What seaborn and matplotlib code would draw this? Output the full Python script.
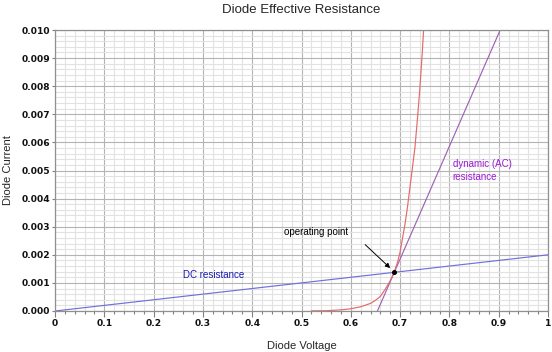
import numpy as np
import pandas as pd
import matplotlib
matplotlib.use("Agg")
import matplotlib.pyplot as plt
import seaborn as sns
from matplotlib.ticker import MultipleLocator

# data
diode_v = [0.52, 0.55, 0.58, 0.60, 0.62, 0.64, 0.65, 0.66, 0.67, 0.68, 0.688, 0.695, 0.70,
           0.705, 0.71, 0.715, 0.72, 0.725, 0.73, 0.735, 0.74, 0.745, 0.75]
diode_i = [0.000005, 0.00001, 0.00004, 0.00008, 0.00015, 0.00027, 0.00038, 0.00052, 0.00078,
           0.00108, 0.00138, 0.00175, 0.0021, 0.0026, 0.0031, 0.0037, 0.0044, 0.0051, 0.0058,
           0.0068, 0.0079, 0.0092, 0.0107]

dc_v = [0.0, 1.0]
dc_i = [0.0, 0.002]

ac_v = [0.654, 0.903]
ac_i = [0.0, 0.010]

op_v = [0.688]
op_i = [0.001376]

x_ticks = [0, 0.1, 0.2, 0.3, 0.4, 0.5, 0.6, 0.7, 0.8, 0.9, 1.0]
x_labels = ["0", "0.1", "0.2", "0.3", "0.4", "0.5", "0.6", "0.7", "0.8", "0.9", "1"]
y_ticks = [0.000, 0.001, 0.002, 0.003, 0.004, 0.005, 0.006, 0.007, 0.008, 0.009, 0.010]
y_labels = ["%.3f" % v for v in y_ticks]

sns.set_style("white")
plt.rcParams["font.family"] = ["Liberation Sans", "DejaVu Sans"]

fig = plt.figure(figsize=(5.52, 3.52), dpi=100)
ax = fig.add_axes([55 / 552, 1 - 311 / 352, 493 / 552, 281 / 352])

# grid
ax.xaxis.set_minor_locator(MultipleLocator(0.02))
ax.yaxis.set_minor_locator(MultipleLocator(0.0002))
ax.grid(which="major", color="#b4b4b4", linewidth=0.8)
ax.grid(which="minor", color="#e2e2e2", linewidth=0.8)
ax.set_axisbelow(True)

sns.lineplot(x=dc_v, y=dc_i, ax=ax, color="#7070dc", linewidth=0.85, sort=False)
sns.lineplot(x=ac_v, y=ac_i, ax=ax, color="#9e62b6", linewidth=0.85, sort=False)
sns.lineplot(x=diode_v, y=diode_i, ax=ax, color="#e46a6a", linewidth=0.85, sort=False)
ax.plot(op_v, op_i, "o", color="black", markersize=2.6, zorder=5)

ax.set_xlim(0, 1)
ax.set_ylim(0, 0.010)
ax.set_xticks(x_ticks)
ax.set_xticklabels(x_labels)
ax.set_yticks(y_ticks)
ax.set_yticklabels(y_labels)

for lab in ax.get_xticklabels() + ax.get_yticklabels():
    lab.set_fontfamily("DejaVu Sans")
    lab.set_fontsize(6.6)
    lab.set_fontweight("bold")
    lab.set_color("#111111")

ax.tick_params(axis="x", which="major", direction="out", length=4, color="#808080", width=0.8, pad=2, bottom=True)
ax.tick_params(axis="x", which="minor", direction="out", length=2, color="#808080", width=0.8, bottom=True)
ax.tick_params(axis="y", which="major", direction="out", length=2, color="#808080", width=0.8, pad=1.5, left=True)
ax.tick_params(axis="y", which="minor", left=False)

for side in ["left", "bottom", "top", "right"]:
    ax.spines[side].set_visible(True)
    ax.spines[side].set_color("#909090")
    ax.spines[side].set_linewidth(0.9)

ax.set_xlabel("Diode Voltage", fontsize=8, labelpad=9)
ax.set_ylabel("Diode Current", fontsize=8, labelpad=6)
ax.set_title("Diode Effective Resistance", fontsize=9.5, pad=12)

# annotations
ax.text(0.465, 0.00281, "operating point", fontsize=7, color="black", va="center", ha="left")
ax.annotate("", xy=(0.684, 0.00146), xytext=(0.625, 0.00243),
            arrowprops=dict(arrowstyle="-|>", color="black", lw=0.7, mutation_scale=7))
ax.text(0.26, 0.00128, "DC resistance", fontsize=7, color="#1a1ab4", va="center", ha="left")
ax.text(0.807, 0.00500, "dynamic (AC)\nresistance", fontsize=7, color="#9a1ad2",
        va="center", ha="left", linespacing=1.3)

fig.savefig("out.png", dpi=100)
